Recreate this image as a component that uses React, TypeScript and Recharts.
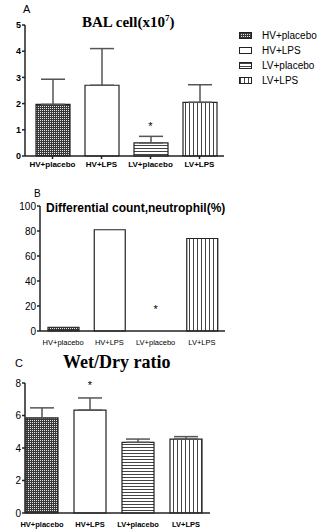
import React from 'react';
import { BarChart, Bar, XAxis, YAxis, Cell, ErrorBar, ReferenceDot } from 'recharts';

const groups = ['HV+placebo', 'HV+LPS', 'LV+placebo', 'LV+LPS'];

// panel A: BAL cell count (x10^7)
const balMean = [1.97, 2.7, 0.5, 2.05];
const balSd = [0.96, 1.4, 0.25, 0.67];
const balTicks = [0, 1, 2, 3, 4, 5];

// panel B: neutrophil %
const neutro = [3, 81, 0, 74];
const neutroTicks = [0, 20, 40, 60, 80, 100];

// panel C: wet/dry ratio
const wetDry = [5.85, 6.33, 4.35, 4.55];
const wetDrySd = [0.62, 0.75, 0.2, 0.15];
const wetDryTicks = [0, 2, 4, 6, 8];

// significance marks: group + y position of the asterisk
const starA = { group: 'LV+placebo', y: 1.15 };
const starB = { group: 'LV+placebo', y: 18 };
const starC = { group: 'HV+LPS', y: 7.85 };

const fills = ['url(#checker)', '#fff', 'url(#hlines)', 'url(#vlines)'];

const balData = groups.map((g, i) => ({ name: g, value: balMean[i], err: [0, balSd[i]] }));
const neutroData = groups.map((g, i) => ({ name: g, value: neutro[i] }));
const wetData = groups.map((g, i) => ({ name: g, value: wetDry[i], err: [0, wetDrySd[i]] }));

const sans = '"Liberation Sans", Arial, sans-serif';
const serif = '"Liberation Serif", "Times New Roman", serif';

const Star = (props: any) => (
  <text x={props.cx} y={props.cy} textAnchor="middle" dominantBaseline="central" fontSize={11} fontFamily={sans} fill="#000">
    *
  </text>
);

function Patterns() {
  return (
    <svg width={0} height={0} style={{ position: 'absolute' }}>
      <defs>
        <pattern id="checker" width={2} height={2} patternUnits="userSpaceOnUse">
          <rect width={2} height={2} fill="#383838" />
          <rect x={0} y={0} width={1} height={1} fill="#e8e8e8" />
        </pattern>
        <pattern id="hlines" width={4} height={3} patternUnits="userSpaceOnUse">
          <rect width={4} height={3} fill="#fff" />
          <rect x={0} y={1} width={4} height={1} fill="#444" />
        </pattern>
        <pattern id="vlines" width={4} height={4} patternUnits="userSpaceOnUse">
          <rect width={4} height={4} fill="#fff" />
          <rect x={1} y={0} width={1} height={4} fill="#444" />
        </pattern>
      </defs>
    </svg>
  );
}

const abs = (left: number, top: number): React.CSSProperties => ({ position: 'absolute', left, top });

export default function App() {
  return (
    <div style={{ position: 'absolute', left: 0, top: 0, width: 323, height: 530, background: '#fff', fontFamily: sans, color: '#000' }}>
      <Patterns />

      {/* Panel A */}
      <div style={{ ...abs(23, 3), fontSize: 11 }}>A</div>
      <div style={{ ...abs(82, 13), fontFamily: serif, fontWeight: 'bold', fontSize: 15, whiteSpace: 'nowrap' }}>
        BAL cell(x10<sup style={{ fontSize: 9 }}>7</sup>)
      </div>
      <div style={abs(0, 0)}>
        <BarChart width={240} height={176} data={balData} margin={{ top: 25, right: 16, bottom: 0, left: 0 }}>
          <YAxis width={25} domain={[0, 5]} ticks={balTicks} tickSize={3} tickMargin={1}
            stroke="#222" strokeWidth={1.5} tick={{ fontSize: 9, fontWeight: 'bold', fill: '#000', fontFamily: sans }} />
          <XAxis dataKey="name" height={20} padding={{ left: 3, right: 0 }} tickSize={3} tickMargin={2} interval={0}
            stroke="#222" strokeWidth={1.5} tick={{ fontSize: 8, fontWeight: 'bold', fill: '#000', fontFamily: sans }} />
          <Bar dataKey="value" barSize={34} stroke="#222" strokeWidth={1.2} isAnimationActive={false}>
            {balData.map((d, i) => <Cell key={d.name} fill={fills[i]} />)}
            <ErrorBar dataKey="err" width={12} stroke="#555" strokeWidth={1.5} />
          </Bar>
          <ReferenceDot x={starA.group} y={starA.y} r={0} shape={Star} />
        </BarChart>
      </div>

      {/* legend */}
      <div style={{ ...abs(239, 28), fontSize: 10, lineHeight: '15px' }}>
        {groups.map((g, i) => (
          <div key={g} style={{ display: 'flex', alignItems: 'center', height: 15 }}>
            <svg width={13} height={7} style={{ marginRight: 10 }}>
              <rect x={0.5} y={0.5} width={12} height={6} fill={fills[i]} stroke="#222" strokeWidth={1} />
            </svg>
            <span>{g}</span>
          </div>
        ))}
      </div>

      {/* Panel B */}
      <div style={{ ...abs(34, 188), fontSize: 10 }}>B</div>
      <div style={{ ...abs(46, 201), fontWeight: 'bold', fontSize: 12, whiteSpace: 'nowrap' }}>
        Differential count,neutrophil(%)
      </div>
      <div style={abs(0, 180)}>
        <BarChart width={240} height={170} data={neutroData} margin={{ top: 26, right: 15, bottom: 0, left: 0 }}>
          <YAxis width={40} domain={[0, 100]} ticks={neutroTicks} tickSize={3} tickMargin={1}
            stroke="#222" strokeWidth={1.5} tick={{ fontSize: 10, fill: '#000', fontFamily: sans }} />
          <XAxis dataKey="name" height={19} tickLine={false} tickMargin={3} interval={0}
            stroke="#222" strokeWidth={1.5} tick={{ fontSize: 7.5, fill: '#000', fontFamily: sans }} />
          <Bar dataKey="value" barSize={31} stroke="#222" strokeWidth={1.2} isAnimationActive={false}>
            {neutroData.map((d, i) => <Cell key={d.name} fill={fills[i]} />)}
          </Bar>
          <ReferenceDot x={starB.group} y={starB.y} r={0} shape={Star} />
        </BarChart>
      </div>

      {/* Panel C */}
      <div style={{ ...abs(15, 357), fontSize: 11 }}>C</div>
      <div style={{ ...abs(63, 352), fontFamily: serif, fontWeight: 'bold', fontSize: 18, whiteSpace: 'nowrap' }}>
        Wet/Dry ratio
      </div>
      <div style={abs(0, 350)}>
        <BarChart width={240} height={180} data={wetData} margin={{ top: 33, right: 30, bottom: 0, left: 0 }}>
          <YAxis width={25} domain={[0, 8]} ticks={wetDryTicks} tickSize={3} tickMargin={1}
            stroke="#222" strokeWidth={1.5} tick={{ fontSize: 10, fill: '#000', fontFamily: sans }} />
          <XAxis dataKey="name" height={17} padding={{ left: -7, right: 0 }} tickLine={false} tickMargin={3} interval={0}
            stroke="#222" strokeWidth={1.5} tick={{ fontSize: 7.5, fontWeight: 'bold', fill: '#000', fontFamily: sans }} />
          <Bar dataKey="value" barSize={32} stroke="#222" strokeWidth={1.2} isAnimationActive={false}>
            {wetData.map((d, i) => <Cell key={d.name} fill={fills[i]} />)}
            <ErrorBar dataKey="err" width={12} stroke="#555" strokeWidth={1.5} />
          </Bar>
          <ReferenceDot x={starC.group} y={starC.y} r={0} shape={Star} />
        </BarChart>
      </div>
    </div>
  );
}
